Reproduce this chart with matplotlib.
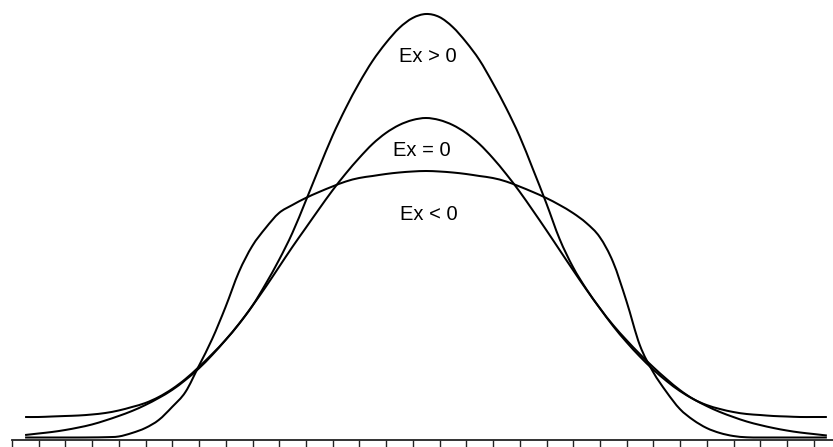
import matplotlib
matplotlib.use("Agg")
import matplotlib.pyplot as plt
from matplotlib.path import Path
from matplotlib.patches import PathPatch
import numpy as np

# sample positions (tick units, centre of the distribution at 0)
x_pos = [-15.0, -14.5, -14.0, -13.5, -13.0, -12.5, -12.0, -11.5, -11.0, -10.5,
         -10.0, -9.5, -9.0, -8.5, -8.0, -7.5, -7.0, -6.5, -6.0, -5.5,
         -5.0, -4.5, -4.0, -3.5, -3.0, -2.5, -2.0, -1.5, -1.0, -0.5,
         0.0, 0.5, 1.0, 1.5, 2.0, 2.5, 3.0, 3.5, 4.0, 4.5,
         5.0, 5.5, 6.0, 6.5, 7.0, 7.5, 8.0, 8.5, 9.0, 9.5,
         10.0, 10.5, 11.0, 11.5, 12.0, 12.5, 13.0, 13.5, 14.0, 14.5, 15.0]

# heights (arbitrary units)
ex_pos = [23, 23, 23.5, 24, 24.5, 25.5, 27, 29.5, 33, 37,
          43, 51, 61, 73, 86, 100, 116, 134, 156, 180,
          207, 239, 272, 304, 332, 357, 379, 397, 412, 422,
          426, 423, 413, 398, 380, 357, 332, 304, 271, 237,
          201, 173, 151, 132, 115, 100, 86, 73, 61, 50,
          41, 35, 31, 28, 26, 25, 24, 23.5, 23, 23, 23]

ex_zero = [5, 6.5, 8, 10, 12.5, 15.5, 19.5, 24, 29, 35,
           42, 50, 60, 71.5, 85, 100, 116, 134, 153, 173,
           193, 212, 231, 249.5, 266.5, 282, 296, 307, 315, 320,
           322, 320, 315, 307, 296, 282, 266, 248.5, 229.5, 210,
           190, 170, 150.5, 132, 114, 98, 83.5, 70.5, 59, 49,
           41, 34, 28, 23, 18.5, 15, 12, 9.5, 7.5, 6, 4.5]

ex_neg = [2.5, 2.5, 2.5, 2.5, 2.5, 2.6, 2.8, 3.5, 7, 12,
          20, 33, 48, 74, 101, 133, 168, 194, 212, 227,
          235, 242, 248, 253.5, 258.5, 262, 264, 266, 267.5, 268.5,
          269, 268.5, 267.5, 266, 264, 262, 258.5, 253.5, 248, 242,
          235, 227, 217, 203, 178, 139, 95, 68, 48, 31,
          20, 12, 7, 4, 2.7, 2.5, 2.5, 2.5, 2.5, 2.5, 2.5]

labels = ["Ex > 0", "Ex = 0", "Ex < 0"]


def smooth_path(xs, ys):
    """Catmull-Rom style smooth path through the given points (cubic Beziers)."""
    p = np.column_stack([xs, ys]).astype(float)
    ext = np.vstack([p[0], p, p[-1]])
    verts = [p[0]]
    codes = [Path.MOVETO]
    for i in range(1, len(ext) - 2):
        p0, p1, p2, p3 = ext[i - 1], ext[i], ext[i + 1], ext[i + 2]
        c1 = p1 + (p2 - p0) / 6.0
        c2 = p2 - (p3 - p1) / 6.0
        verts += [c1, c2, p2]
        codes += [Path.CURVE4] * 3
    return Path(verts, codes)


W, H = 833, 447
fig = plt.figure(figsize=(W / 100, H / 100), dpi=100)
ax = fig.add_axes([12 / W, 7 / H, (W - 12) / W, 440 / H])

for series in (ex_pos, ex_zero, ex_neg):
    patch = PathPatch(smooth_path(x_pos, series), facecolor="none",
                      edgecolor="black", lw=1.45, clip_on=False)
    ax.add_patch(patch)

ax.set_xlim(-15.49, 15.23)
ax.set_ylim(0, 440)

label_xy = [(0.07, 384), (-0.15, 289), (0.11, 226)]
for txt, (lx, ly) in zip(labels, label_xy):
    ax.text(lx, ly, txt, ha="center", va="center", fontsize=14.5,
            family="Liberation Sans", color="black")

for s in ("top", "left", "right"):
    ax.spines[s].set_visible(False)
ax.spines["bottom"].set_linewidth(1.3)
ax.spines["bottom"].set_color("#222222")
ax.set_xticks(np.arange(-15.49, 15.2, 1.0))
ax.set_xticklabels([])
ax.set_yticks([])
ax.tick_params(axis="x", direction="out", length=5.5, width=1.0,
               color="#222222")

fig.savefig("out.png", dpi=100)
